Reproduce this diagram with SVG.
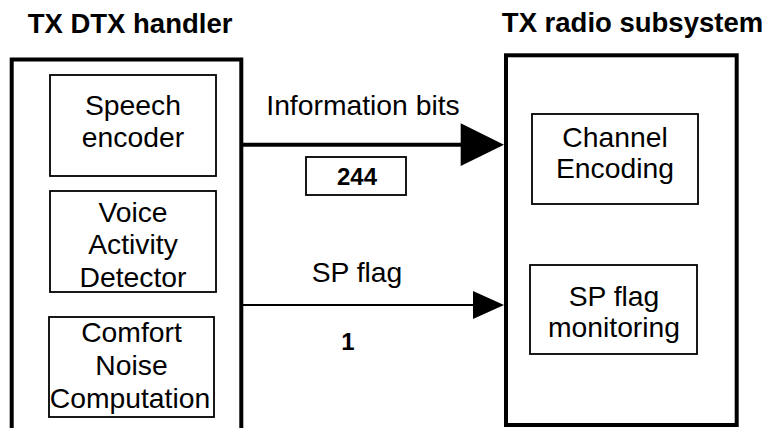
<svg xmlns="http://www.w3.org/2000/svg" width="763" height="428" viewBox="0 0 763 428">
<style>
text{font-family:"Liberation Sans",Arial,sans-serif;font-size:28.3px;fill:#000;text-anchor:middle}
.b{font-weight:bold;font-size:27.5px}
.n{font-weight:bold;font-size:24px}
.outer{fill:none;stroke:#000;stroke-width:4}
.inner{fill:#fff;stroke:#000;stroke-width:1.8}
</style>
<rect width="763" height="428" fill="#fff"/>
<g id="tx-dtx-handler">
<text class="b" x="130" y="33">TX DTX handler</text>
<path class="outer" d="M11.7,430 V59.5 H241.3 V430"/>
</g>
<g id="speech-encoder">
<rect class="inner" x="50" y="75" width="166" height="101"/>
<text x="133" y="115">Speech</text>
<text x="133" y="147">encoder</text>
</g>
<g id="vad">
<rect class="inner" x="50" y="191" width="166" height="101"/>
<text x="133" y="222">Voice</text>
<text x="133" y="254">Activity</text>
<text x="133" y="287">Detector</text>
</g>
<g id="comfort-noise">
<rect class="inner" x="49" y="317" width="165" height="100"/>
<text x="131.5" y="342">Comfort</text>
<text x="131.5" y="375">Noise</text>
<text x="130" y="408">Computation</text>
</g>
<g id="tx-radio-subsystem">
<text class="b" x="632.5" y="32">TX radio subsystem</text>
<rect class="outer" x="506" y="55.3" width="230.7" height="369.7"/>
</g>
<g id="channel-encoding">
<rect class="inner" x="532" y="114" width="166" height="90"/>
<text x="615" y="147">Channel</text>
<text x="615" y="178">Encoding</text>
</g>
<g id="sp-flag-monitoring">
<rect class="inner" x="530" y="265" width="167" height="89"/>
<text x="614" y="306">SP flag</text>
<text x="614" y="337">monitoring</text>
</g>
<g id="connectors">
<line x1="241" y1="144.7" x2="462" y2="144.7" stroke="#000" stroke-width="4"/>
<polygon points="460.7,123.3 504,144.7 460.7,166" fill="#000"/>
<text x="363" y="115">Information bits</text>
<rect class="inner" x="306" y="157" width="100" height="38"/>
<text class="n" x="357" y="185">244</text>
<line x1="241" y1="305" x2="474" y2="305" stroke="#000" stroke-width="1.8"/>
<polygon points="473,291 504,305 473,319" fill="#000"/>
<text x="357" y="282">SP flag</text>
<text class="n" x="348" y="350">1</text>
</g>
</svg>
